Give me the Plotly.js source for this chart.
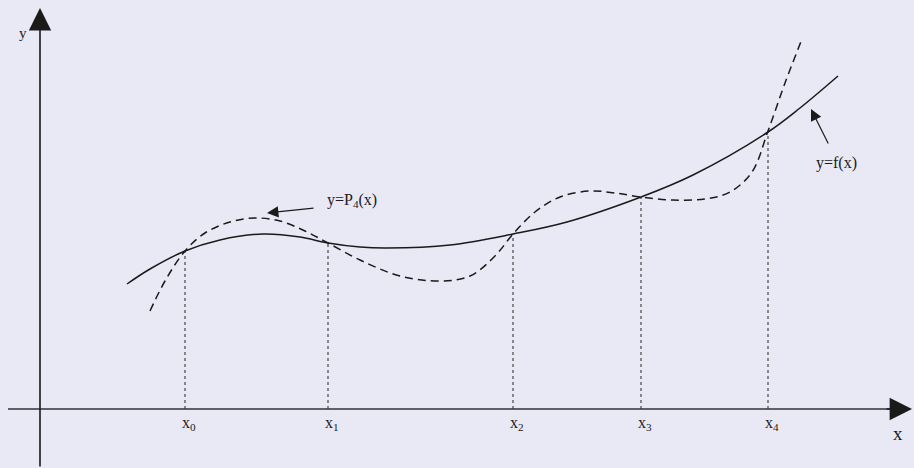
<!DOCTYPE html>
<html>
<head>
<meta charset="utf-8">
<script src="https://cdn.plot.ly/plotly-3.0.1.min.js"></script>
<style>html,body{margin:0;padding:0;background:#e9e9f5;}#chart{width:914px;height:468px;}</style>
</head>
<body>
<div id="chart"></div>
<script>
// Interpolation nodes x0..x4
const nodeX = [145, 288, 473, 601, 728];
const nodeY = [158, 166, 175, 212, 277];
const nodeLabels = ["x<sub>0</sub>", "x<sub>1</sub>", "x<sub>2</sub>", "x<sub>3</sub>", "x<sub>4</sub>"];

// y = f(x) (solid)
const fX = [87, 110, 145, 180, 223, 260, 288, 320, 347, 410, 473, 527, 601, 653, 728, 760, 798];
const fY = [125, 140, 158, 169, 175, 172, 166, 162, 161, 164, 175, 187, 212, 234, 277, 301, 333];

// y = P4(x) (dashed)
const pX = [110, 125, 145, 165, 190, 215, 240, 265, 288, 320, 360, 400, 430, 455, 473, 495, 520, 550, 575, 601, 633, 665, 690, 712, 728, 745, 762];
const pY = [98, 128, 158, 176, 187, 191, 188, 178, 166, 149, 133, 128, 133, 153, 175, 197, 212, 218, 216, 212, 209, 210, 217, 237, 278, 326, 370];

const FONT = "Liberation Serif, Times New Roman, serif";
const INK = "#1a1a1a";

const traces = [];
nodeX.forEach((x, i) => {
  traces.push({x: [x, x], y: [0, nodeY[i]], mode: "lines", line: {color: "#444", width: 1.2, dash: "dot"}, hoverinfo: "skip", showlegend: false});
});
traces.push({x: fX, y: fY, mode: "lines", line: {color: INK, width: 1.5, shape: "spline", smoothing: 1}, showlegend: false});
traces.push({x: pX, y: pY, mode: "lines", line: {color: INK, width: 1.5, shape: "spline", smoothing: 1, dash: "8px,5px"}, showlegend: false});

const annotations = [];
nodeX.forEach((x, i) => {
  annotations.push({x: x + 4, y: -14, xref: "x", yref: "y", text: nodeLabels[i], showarrow: false, font: {family: FONT, size: 16, color: INK}});
});
annotations.push({x: 858, y: -24, xref: "x", yref: "y", text: "x", showarrow: false, font: {family: FONT, size: 19, color: INK}});
annotations.push({x: -17, y: 376, xref: "x", yref: "y", text: "y", showarrow: false, font: {family: FONT, size: 15, color: INK}});
annotations.push({x: 312, y: 209, xref: "x", yref: "y", text: "y=P<sub>4</sub>(x)", showarrow: false, font: {family: FONT, size: 16, color: INK}});
annotations.push({x: 796, y: 246, xref: "x", yref: "y", text: "y=f(x)", showarrow: false, font: {family: FONT, size: 16, color: INK}});
// label arrows
annotations.push({x: 227, y: 196, ax: 275, ay: 201, xref: "x", yref: "y", axref: "x", ayref: "y", text: "", showarrow: true, arrowhead: 2, arrowsize: 1.9, arrowwidth: 1.2, arrowcolor: INK, standoff: 0});
annotations.push({x: 771, y: 300, ax: 789, ay: 264, xref: "x", yref: "y", axref: "x", ayref: "y", text: "", showarrow: true, arrowhead: 2, arrowsize: 1.9, arrowwidth: 1.2, arrowcolor: INK, standoff: 0});
// axis arrowheads
annotations.push({x: 0, y: 401, ax: 0, ay: -59, xref: "x", yref: "y", axref: "x", ayref: "y", text: "", showarrow: true, arrowhead: 2, arrowsize: 2.8, arrowwidth: 1.6, arrowcolor: INK, standoff: 0});
annotations.push({x: 872, y: 0, ax: 845, ay: 0, xref: "x", yref: "y", axref: "x", ayref: "y", text: "", showarrow: true, arrowhead: 2, arrowsize: 2.8, arrowwidth: 1.6, arrowcolor: INK, standoff: 0});

const layout = {
  width: 914, height: 468,
  margin: {l: 0, r: 0, t: 0, b: 0, pad: 0},
  paper_bgcolor: "#e9e9f5", plot_bgcolor: "#e9e9f5",
  xaxis: {range: [-40, 874], visible: false, fixedrange: true},
  yaxis: {range: [-59, 409], visible: false, fixedrange: true},
  shapes: [
    {type: "line", xref: "x", yref: "y", x0: -32, y0: 0, x1: 855, y1: 0, line: {color: "#5f5f66", width: 2.2}, layer: "below"}
  ],
  annotations: annotations,
  showlegend: false
};

Plotly.newPlot("chart", traces, layout, {displayModeBar: false, staticPlot: true});
</script>
</body>
</html>
